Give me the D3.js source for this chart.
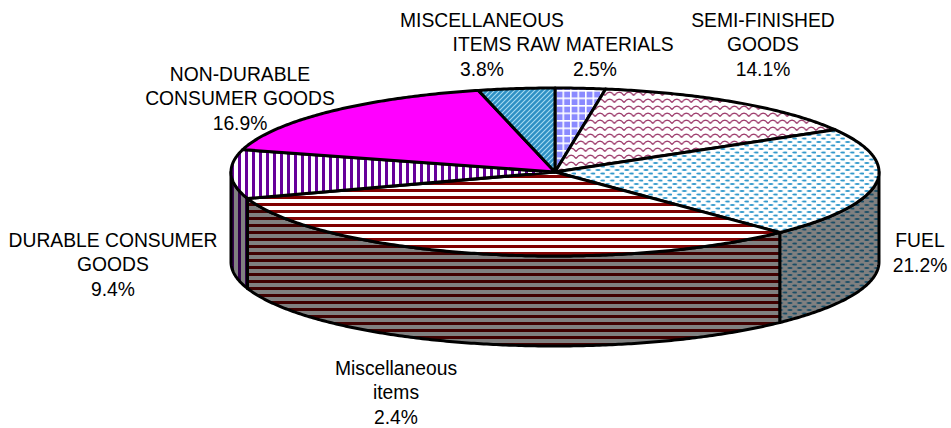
<!DOCTYPE html>
<html>
<head>
<meta charset="utf-8">
<script src="https://cdnjs.cloudflare.com/ajax/libs/d3/7.8.5/d3.min.js"></script>
<style>
    html, body { margin: 0; padding: 0; background: #fff; }
    text { font-family: "Liberation Sans", Arial, sans-serif; font-size: 19.3px; fill: #000; }
</style>
</head>
<body>
<div id="chart"></div>
<script>
// slices clockwise from 12 o'clock; the big slice reads as about 32.1 on the picture
var categories = ['RAW MATERIALS', 'SEMI-FINISHED GOODS', 'FUEL', 'Miscellaneous items', 'DURABLE CONSUMER GOODS', 'NON-DURABLE CONSUMER GOODS', 'MISCELLANEOUS ITEMS'];
var values = [2.5, 14.1, 21.2, 32.1, 9.4, 16.9, 3.8];
// the label printed on the chart says 2.4% for the big slice
var percentLabels = ['2.5%', '14.1%', '21.2%', '2.4%', '9.4%', '16.9%', '3.8%'];
var labelLines = [
    ['RAW MATERIALS'],
    ['SEMI-FINISHED', 'GOODS'],
    ['FUEL'],
    ['Miscellaneous', 'items'],
    ['DURABLE CONSUMER', 'GOODS'],
    ['NON-DURABLE', 'CONSUMER GOODS'],
    ['MISCELLANEOUS', 'ITEMS']
];

var width = 951;
var height = 428;
var cx = 555, cy = 172, rx = 324, ry = 84, depth = 90;
var lineGap = 24.6;

// label block: centre x and baseline of the last line
var labelPos = [
    [595, 76], [763, 76], [920, 272], [396, 424], [113, 296], [240, 130], [482, 76]
];

var svg = d3.select('#chart').append('svg')
    .attr('width', width)
    .attr('height', height);

var defs = svg.append('defs');

function makePattern(id, w, h, bg, draw) {
    var p = defs.append('pattern')
        .attr('id', id)
        .attr('patternUnits', 'userSpaceOnUse')
        .attr('width', w)
        .attr('height', h);
    p.append('rect').attr('width', w).attr('height', h).attr('fill', bg);
    draw(p);
}

function checks(fg) {
    return function (p) {
        p.append('rect').attr('x', 0).attr('y', 0).attr('width', 1.6).attr('height', 7.5).attr('fill', fg);
        p.append('rect').attr('x', 0).attr('y', 0).attr('width', 7.5).attr('height', 1.6).attr('fill', fg);
    };
}
function diagonal(fg) {
    return function (p) {
        p.append('path').attr('d', 'M-1,1 L1,-1 M0,5 L5,0 M4,6 L6,4')
            .attr('stroke', fg).attr('stroke-width', 1.1);
    };
}
function wave(fg) {
    return function (p) {
        p.append('path').attr('d', 'M0,4.6 Q2.4,1.2 4.8,1.2 T9.6,4.6')
            .attr('fill', 'none').attr('stroke', fg).attr('stroke-width', 1.2);
    };
}
function dots(fg) {
    return function (p) {
        p.append('ellipse').attr('cx', 2.8).attr('cy', 2).attr('rx', 2.6).attr('ry', 1.1).attr('fill', fg);
        p.append('ellipse').attr('cx', 7.6).attr('cy', 5.5).attr('rx', 2.6).attr('ry', 1.1).attr('fill', fg);
    };
}
function hStripes(fg) {
    return function (p) {
        p.append('rect').attr('y', 0).attr('width', 8).attr('height', 3).attr('fill', fg);
    };
}
function vStripes(fg) {
    return function (p) {
        p.append('rect').attr('x', 0).attr('width', 3).attr('height', 8).attr('fill', fg);
    };
}

// top face patterns, then the darker ones for the wall
makePattern('raw', 7.5, 7.5, '#8a8aff', checks('#ffffff'));
makePattern('semi', 9.6, 7, '#ffffff', wave('#993366'));
makePattern('fuel', 9.6, 7, '#ffffff', dots('#3399cc'));
makePattern('big', 8, 7, '#ffffff', hStripes('#800000'));
makePattern('durable', 7, 8, '#ffffff', vStripes('#660099'));
makePattern('other', 5, 5, '#2e90c4', diagonal('#a6dcf2'));

makePattern('fuelWall', 9.6, 7, '#808080', dots('#1a4d66'));
makePattern('bigWall', 8, 7, '#808080', hStripes('#400000'));
makePattern('durableWall', 7, 8, '#808080', vStripes('#33004d'));

var topFills = ['url(#raw)', 'url(#semi)', 'url(#fuel)', 'url(#big)', 'url(#durable)', '#ff00ff', 'url(#other)'];
var wallFills = [null, null, 'url(#fuelWall)', 'url(#bigWall)', 'url(#durableWall)', null, null];

var rimX = d3.scaleLinear().domain([-1, 1]).range([cx - rx, cx + rx]);
var rimY = d3.scaleLinear().domain([-1, 1]).range([cy - ry, cy + ry]);

var pie = d3.pie().sort(null).value(function (d) { return d; });
var slices = pie(values);

var line = d3.line()
    .x(function (d) { return rimX(Math.sin(d)); })
    .y(function (d) { return rimY(-Math.cos(d)); });

function anglesBetween(a0, a1) {
    var n = Math.max(2, Math.ceil((a1 - a0) / 0.01));
    return d3.range(n + 1).map(function (i) { return a0 + (a1 - a0) * i / n; });
}

function sidePath(a0, a1) {
    var rim = anglesBetween(a0, a1);
    // lower rim is the upper one moved down by the depth
    var low = rim.slice().reverse().map(function (a) {
        return [rimX(Math.sin(a)), rimY(-Math.cos(a)) + depth];
    });
    return line(rim) + 'L' + low.map(function (p) { return p.join(','); }).join('L') + 'Z';
}

function topPath(d) {
    return 'M' + cx + ',' + cy + 'L' + line(anglesBetween(d.startAngle, d.endAngle)).slice(1) + 'Z';
}

// wall first, only the front half is visible
svg.selectAll('path.wall')
    .data(slices.filter(function (d) {
        return d.endAngle > Math.PI / 2 && d.startAngle < Math.PI * 1.5;
    }))
    .enter()
    .append('path')
    .attr('class', 'wall')
    .attr('d', function (d) {
        return sidePath(Math.max(d.startAngle, Math.PI / 2), Math.min(d.endAngle, Math.PI * 1.5));
    })
    .attr('fill', function (d) { return wallFills[d.index]; })
    .style('stroke', '#000')
    .style('stroke-width', '3')
    .style('stroke-linejoin', 'round');

svg.selectAll('path.top')
    .data(slices)
    .enter()
    .append('path')
    .attr('class', 'top')
    .attr('d', topPath)
    .attr('fill', function (d) { return topFills[d.index]; })
    .style('stroke', '#000')
    .style('stroke-width', '3')
    .style('stroke-linejoin', 'round');

// labels: name lines then the percent
var label = svg.selectAll('text.label')
    .data(categories)
    .enter()
    .append('text')
    .attr('class', 'label')
    .attr('text-anchor', 'middle');

label.each(function (d, i) {
    var rows = labelLines[i].concat([percentLabels[i]]);
    var el = d3.select(this);
    rows.forEach(function (r, j) {
        el.append('tspan')
            .attr('x', labelPos[i][0])
            .attr('y', labelPos[i][1] - (rows.length - 1 - j) * lineGap)
            .text(r);
    });
});
</script>
</body>
</html>
